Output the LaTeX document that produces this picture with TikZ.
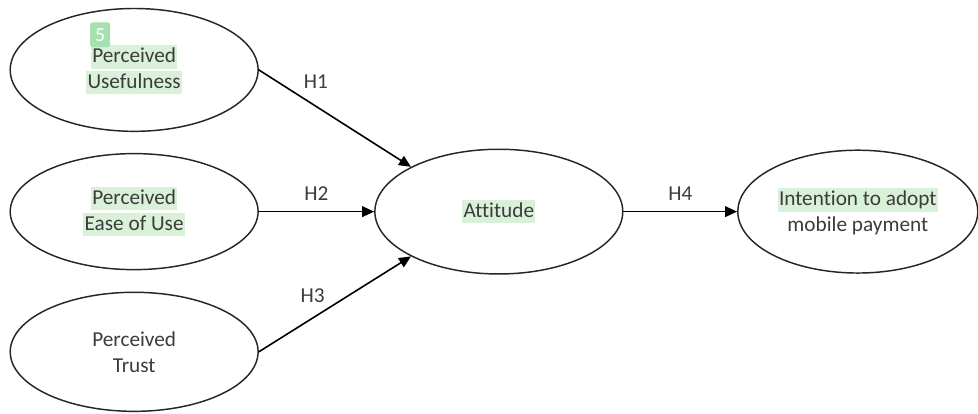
\documentclass[tikz,border=0pt]{standalone}
\usepackage{fontspec}
\setmainfont{Carlito}[Ligatures=NoCommon]
\usetikzlibrary{shapes.geometric,arrows.meta}

\definecolor{hlgreen}{RGB}{217,240,217}
\definecolor{badgegreen}{RGB}{166,224,174}
\definecolor{inkgray}{RGB}{60,60,60}

\newcommand{\hltext}[1]{{\setlength{\fboxsep}{1pt}\colorbox{hlgreen}{\rule[-3.5pt]{0pt}{15.5pt}#1}}}

\begin{document}
\begin{tikzpicture}[
  font=\fontsize{16}{19.5}\selectfont,
  line cap=round,
  line join=round,
  construct/.style={
    ellipse,
    minimum width=6.56cm,
    minimum height=3.12cm,
    align=center,
    inner sep=0pt,
    line width=1.1pt,
    draw=black!85,
    text=inkgray,
    fill=white
  },
  arr/.style={
    -{Triangle[length=9pt,width=8pt]},
    line width=1.2pt,
    draw=black
  },
  lbl/.style={
    text=inkgray,
    inner sep=1pt
  },
  badge/.style={
    rectangle,
    rounded corners=2pt,
    minimum width=0.53cm,
    minimum height=0.66cm,
    inner sep=0pt,
    fill=badgegreen,
    text=white,
    font=\fontsize{15}{17}\selectfont
  }
]

\path[use as bounding box, fill=white] (0,0) rectangle (25.88,-10.95);

\node[construct, minimum height=3.25cm] (pu) at (3.55, -1.85) {%
  \hltext{Perceived}\\\hltext{Usefulness}};
\node[construct, minimum height=3.07cm] (peou) at (3.55, -5.60) {%
  \hltext{Perceived}\\\hltext{Ease of Use}};
\node[construct, minimum height=3.15cm] (pt) at (3.55, -9.31) {%
  Perceived\\Trust};
\node[construct, minimum height=3.3cm] (att) at (13.20, -5.60) {%
  \hltext{Attitude}};
\node[construct, minimum width=6.35cm, minimum height=3.25cm] (int) at (22.70, -5.60) {%
  \hltext{Intention to adopt}\\mobile payment};

\node[badge] (num) at (2.65, -0.92) {5};

\draw[arr] (pu.east) -- node[lbl, pos=0.375, above=12pt] {H1} (att.153);
\draw[arr] (peou.east) -- node[lbl, above=6.5pt] {H2} (att.west);
\draw[arr] (pt.east) -- node[lbl, pos=0.354, above=10pt] {H3} (att.207);
\draw[arr] (att.east) -- node[lbl, above=6.5pt] {H4} (int.west);

\end{tikzpicture}
\end{document}
